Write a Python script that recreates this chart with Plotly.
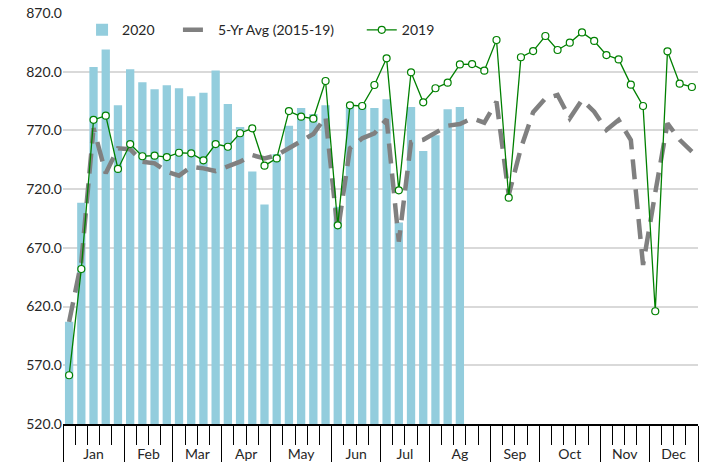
import plotly.graph_objects as go

# ---------------- data ----------------
months = ["Jan", "Feb", "Mar", "Apr", "May", "Jun", "Jul", "Ag", "Sep", "Oct", "Nov", "Dec"]
weeks_per_month = [5, 4, 4, 4, 5, 4, 4, 5, 4, 5, 4, 4]
weeks = list(range(52))

y2020 = [607, 708.5, 824, 839, 791.5, 822, 811, 805, 808.5, 806,
         799, 802, 821, 792.5, 773, 735, 707, 750, 774, 789,
         784, 791.5, 705, 790, 793, 789, 796.5, 691.5, 790, 752.5,
         766, 788, 790]

avg5 = [607, 658, 772, 733.5, 754.8, 754, 743.4, 742, 735, 731.5,
        739, 737.7, 735.4, 739.7, 743.4, 749, 746.2, 748.8, 754.6, 760.5,
        767, 781.5, 683.8, 754.8, 763.3, 767.5, 779.5, 675.3, 760, 762,
        768, 774, 775.5, 780.3, 776.6, 794.5, 715, 755, 785.5, 797.3,
        800.2, 780.3, 795.9, 786, 770.4, 778.9, 761.8, 655.4, 717, 776,
        762, 752]

y2019 = [561.5, 652, 779, 782.6, 737.2, 758.4, 748, 748.5, 747.3, 751,
         750.5, 744.5, 758.4, 756.1, 767.6, 771.8, 740, 746.2, 786.5, 781.7,
         780, 812.1, 689.2, 791.4, 790.8, 808.7, 831.4, 719, 819.5, 793.9,
         805.9, 810.7, 826.2, 826.5, 820.9, 847, 712.7, 832.3, 837.6, 850.4,
         838.5, 844.7, 853.5, 846.2, 834.2, 830.5, 809, 790.8, 616, 837.4,
         809.8, 807]

y_ticks = [520, 570, 620, 670, 720, 770, 820, 870]

# month boundaries / centres derived from the week counts
bounds = [-0.5]
for n in weeks_per_month:
    bounds.append(bounds[-1] + n)
centers = [(a + b) / 2 for a, b in zip(bounds[:-1], bounds[1:])]

FONT = "Lato"
TXT = "#262626"

fig = go.Figure()
fig.add_trace(go.Bar(
    x=weeks[:len(y2020)], y=y2020, name="2020", legend="legend",
    marker=dict(color="#93CDDD", line=dict(width=0)),
))
fig.add_trace(go.Scatter(
    x=weeks, y=avg5, name="5-Yr Avg (2015-19)", mode="lines", legend="legend2",
    line=dict(color="#808080", width=4.5, dash="20px,10px"),
))
fig.add_trace(go.Scatter(
    x=weeks, y=y2019, name="2019", mode="lines+markers", xaxis="x2", legend="legend3",
    line=dict(color="#008000", width=1.3),
    marker=dict(symbol="circle", size=7, color="white",
                line=dict(color="#008000", width=1.2)),
))

leg_common = dict(orientation="h", y=0.958, xanchor="left", yanchor="middle",
                  bgcolor="rgba(0,0,0,0)", font=dict(family=FONT, size=14, color=TXT))

fig.update_layout(
    width=705, height=462,
    margin=dict(l=63, r=7, t=13, b=38, autoexpand=False),
    paper_bgcolor="white", plot_bgcolor="white",
    bargap=0.32,
    font=dict(family=FONT, size=14, color=TXT),
    showlegend=True,
    legend=dict(x=0.03, **leg_common),
    legend2=dict(x=0.181, **leg_common),
    legend3=dict(x=0.4705, **leg_common),
    xaxis=dict(
        range=[-0.5, 51.5], tickmode="array", tickvals=bounds,
        ticktext=[""] * len(bounds), ticks="outside", ticklen=40,
        tickwidth=1.2, tickcolor="black", showline=True, linecolor="black",
        linewidth=1.5, showgrid=False, zeroline=False, automargin=False,
        minor=dict(tickmode="linear", tick0=-0.5, dtick=1, ticks="outside",
                   ticklen=19, tickwidth=1.2, tickcolor="black", showgrid=False),
    ),
    xaxis2=dict(
        overlaying="x", anchor="y", side="bottom", range=[-0.5, 51.5],
        tickmode="array", tickvals=centers, ticktext=months,
        ticks="outside", ticklen=17, tickcolor="rgba(0,0,0,0)",
        showgrid=False, showline=False, zeroline=False, automargin=False,
        tickfont=dict(family=FONT, size=14, color=TXT),
    ),
    yaxis=dict(
        range=[520, 870], tickmode="array", tickvals=y_ticks,
        tickformat=".1f", showgrid=True, gridcolor="#d9d9d9", gridwidth=1.5,
        zeroline=False, ticks="", showline=False, automargin=False,
        tickfont=dict(family=FONT, size=14, color=TXT),
    ),
)

# remove the page's default 8px body margin so the figure fills the window
fig.write_html("out.html", config={"displayModeBar": False},
               post_script="document.body.style.margin='0';")
